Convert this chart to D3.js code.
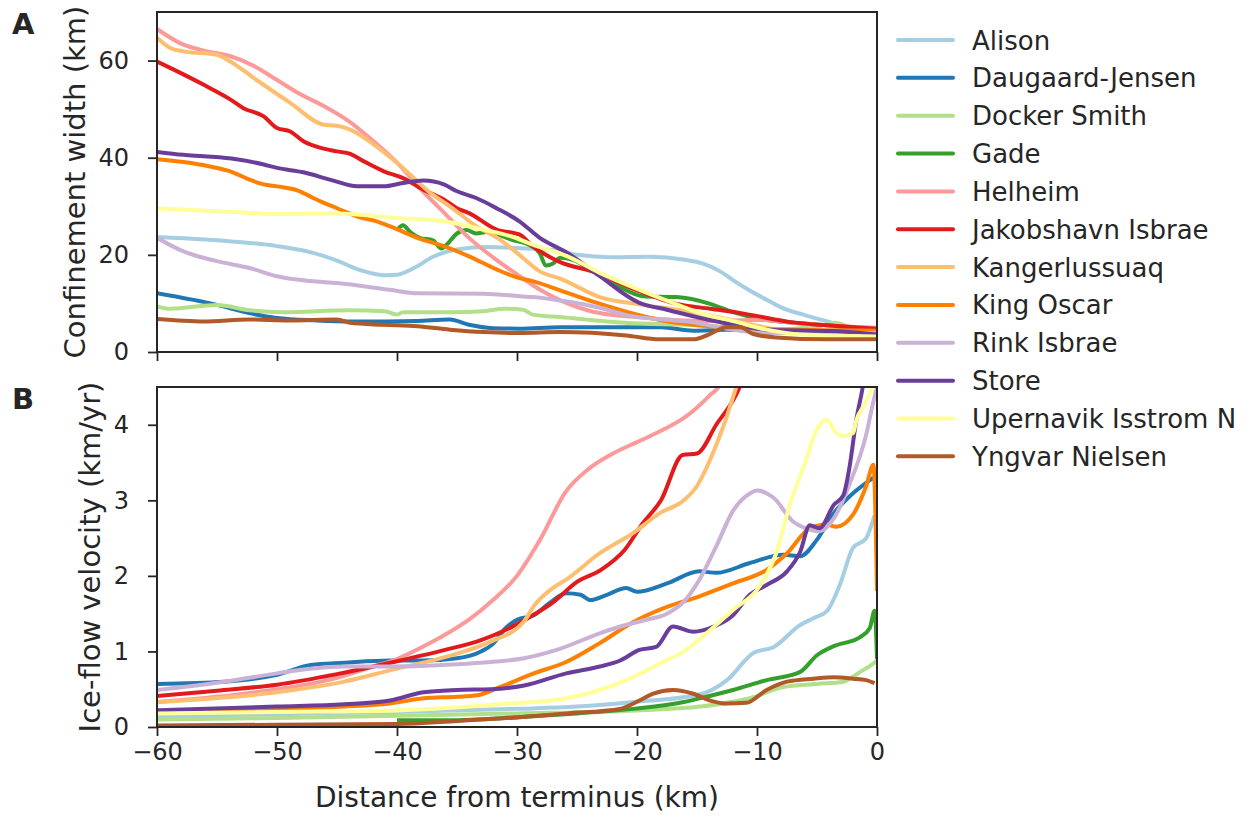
<!DOCTYPE html>
<html>
<head>
<meta charset="utf-8">
<script src="https://cdn.jsdelivr.net/npm/d3@7"></script>
<style>
  html, body { margin: 0; padding: 0; background: #fff; }
  svg { display: block; font-family: "DejaVu Sans", sans-serif; }
</style>
</head>
<body>
<svg id="chart" width="1244" height="816"></svg>
<script>
// Glaciers and their colours (Paired palette)
const glaciers = ["Alison", "Daugaard-Jensen", "Docker Smith", "Gade", "Helheim",
  "Jakobshavn Isbrae", "Kangerlussuaq", "King Oscar", "Rink Isbrae", "Store",
  "Upernavik Isstrom N", "Yngvar Nielsen"];
const colors = ["#a6cee3", "#1f78b4", "#b2df8a", "#33a02c", "#fb9a99", "#e31a1c",
  "#fdbf6f", "#ff7f00", "#cab2d6", "#6a3d9a", "#ffff99", "#b15928"];

const xTicks = [-60, -50, -40, -30, -20, -10, 0];
const widthTicks = [0, 20, 40, 60];
const velocityTicks = [0, 1, 2, 3, 4];

// Confinement width (km) vs distance from terminus (km)
const widthAlison = [[-60,23.7],[-55,23],[-50,21.8],[-47,20.4],[-45,18.8],[-43,16.8],[-41,15.8],[-40,15.9],[-38.5,17.4],[-37,19.6],[-35,21.1],[-32.5,21.6],[-30,21.4],[-27,21],[-25,20],[-22,19.5],[-19,19.6],[-16,19],[-14.5,18.2],[-13,16.5],[-12,14.8],[-10.5,12.5],[-9,10.5],[-8,9.2],[-6,7.6],[-4,6.2],[-2,4.8],[0,4]];
const widthDaugaard = [[-60,12.1],[-55,9.7],[-52.3,8],[-50,7],[-46.7,6.5],[-43.9,6.3],[-41,6.3],[-38.3,6.4],[-35.6,6.7],[-34,5.6],[-32,4.9],[-29.8,4.8],[-26.4,5.1],[-18,5.1],[-15.3,4.4],[-12.5,4.6],[-10,4.5],[-5,4],[0,3.5]];
const widthDocker = [[-60,9.4],[-58.9,8.9],[-55,9.7],[-52.3,8.6],[-49.5,8.2],[-44,8.6],[-41,8.4],[-40,7.7],[-39.5,8.2],[-35.6,8.2],[-32.8,8.4],[-31.1,8.9],[-29.5,8.7],[-28.7,7.7],[-26.4,7.2],[-21,6],[-15,5.5],[-9.2,4.6],[-5,5.2],[-3.5,6],[-2.2,5],[0,3.9]];
const widthGade = [[-39.9,25.4],[-39.5,26.1],[-38.9,24.7],[-38.1,23.5],[-37,23],[-36.3,21.3],[-35.9,22],[-35,24.4],[-34.2,25.1],[-33.4,24.4],[-32.5,24.7],[-31.4,24],[-30.3,23],[-29.2,22.3],[-28.1,20.3],[-27.6,17.8],[-27,18.2],[-26.4,19.4],[-25.3,18.9],[-23.6,16.5],[-21.5,13.5],[-19.5,11.5],[-16.7,11.3],[-13.9,9.9],[-12,8.2],[-9.75,6.8],[-4.2,5.5],[0,4.4]];
const widthHelheim = [[-60,66.5],[-58,63.5],[-56,62],[-54,61],[-52,59],[-50,56],[-48,53],[-46,50.5],[-44,47.5],[-42,43.5],[-40,39],[-38,33.5],[-36,28.5],[-34,23.5],[-32,19.5],[-30,16],[-28,12.7],[-26,10.2],[-24,8.5],[-22,7.6],[-20,7.2],[-17,6.6],[-14,6.4],[-10,6.6],[-6,5.8],[-3,5.3],[0,5]];
const widthJakobshavn = [[-60,59.8],[-58.9,58.5],[-56.1,55],[-53.9,52],[-52.8,50.2],[-51.1,48.5],[-50,46.1],[-48.9,45.4],[-47.8,43.4],[-46.7,42.3],[-45,41.3],[-43.9,40.8],[-42.8,39.3],[-41.1,37.2],[-39.5,35.8],[-37.8,33.4],[-36.1,31.4],[-35,29.6],[-34,28.6],[-31.7,25.2],[-29.8,24.2],[-28.7,21.8],[-26.4,18.5],[-23.6,16.5],[-20,12.7],[-16.7,9.9],[-13.9,8.9],[-11.1,7.9],[-7,6.1],[-4.2,5.5],[0,4.8]];
const widthKanger = [[-60,64.7],[-58.9,62.6],[-57.8,61.9],[-55,61.2],[-53.9,59.8],[-51.7,56],[-48.9,51.3],[-46.1,46.8],[-45,46.6],[-43.9,45.8],[-41.7,42.3],[-39.5,37.9],[-37.2,32.7],[-35.6,30],[-33.4,25.9],[-31.4,23.1],[-30,20.4],[-28.1,16.6],[-26.4,15.1],[-23.1,11.3],[-19.5,9.7],[-15.3,8.2],[-12,6.5],[-9,4.9],[-5,3.8],[0,3.2]];
const widthKingOscar = [[-60,39.7],[-57.8,39.1],[-55.6,38.2],[-53.9,37.2],[-52.3,35.5],[-51.1,34.5],[-50,34.1],[-48.3,33.3],[-47.2,32],[-46.1,30.7],[-45,29.6],[-43.3,27.9],[-41.7,26.9],[-40.6,25.9],[-38.3,23.5],[-36.1,21.8],[-34,19.7],[-31.7,17],[-29.8,15.2],[-28.7,14.6],[-26.4,12.7],[-23.6,10.3],[-20.9,8.3],[-18.1,6.6],[-15.3,5.6],[-9.75,4.75],[0,4.4]];
const widthRink = [[-60,23.5],[-57.8,20.7],[-55,18.7],[-52.3,17.3],[-50,15.6],[-47.2,14.6],[-45,14.2],[-40.6,12.8],[-38.3,12.1],[-32.8,12],[-29.8,11.5],[-28.7,11.3],[-26.4,10.6],[-23.1,9.1],[-20.9,7.6],[-15.3,6.1],[-12.5,4.8],[-9.2,3.9],[-4,3.9],[0,3.9]];
const widthStore = [[-60,41.2],[-57.8,40.6],[-56.1,40.3],[-53.4,39.7],[-51.1,38.6],[-50,37.9],[-47.8,37],[-45.6,35.5],[-43.3,34.1],[-41.1,34.1],[-39.5,34.8],[-37.8,35.3],[-36.1,34.5],[-35,33.1],[-33.4,31.7],[-31.7,29.6],[-29.8,26.9],[-28.1,23.5],[-25.8,20.4],[-23.1,15.6],[-19.8,10.1],[-17.5,8.7],[-14.7,7],[-11.9,5.6],[-9.2,4.6],[-3.6,4.3],[0,3.6]];
const widthUpernavik = [[-60,29.6],[-55,29],[-50,28.4],[-45,28.5],[-40,27.6],[-36.1,26.9],[-32.8,25.2],[-30.5,23.8],[-28.7,22.1],[-25.8,19.7],[-23.1,16.3],[-19.8,12.8],[-17,10.1],[-14.7,8],[-11.9,6.3],[-9.2,4.6],[-6.4,3.6],[0,3.2]];
const widthYngvar = [[-60,6.8],[-56.1,6.3],[-52.3,6.7],[-48.9,6.5],[-45,6.7],[-43.9,6],[-41.1,5.6],[-38.3,5.3],[-35.6,4.6],[-32.8,4.1],[-29.8,3.9],[-26.4,4.1],[-20.9,3.4],[-18.1,2.6],[-15.3,2.6],[-14.2,3.4],[-12.5,5.1],[-11.4,5.1],[-10.3,3.7],[-8.4,3],[-4.2,2.6],[0,2.6]];

// Ice-flow velocity (km/yr) vs distance from terminus (km)
const velAlison = [[-60,0.14],[-50,0.17],[-40,0.2],[-30,0.24],[-25,0.27],[-20.3,0.33],[-14.8,0.43],[-12.5,0.62],[-10.3,0.98],[-8.6,1.06],[-6.4,1.35],[-5.3,1.44],[-4.2,1.53],[-3.1,1.88],[-2,2.37],[-0.9,2.5],[-0.2,2.8]];
const velDaugaard = [[-60,0.57],[-54.4,0.6],[-50,0.69],[-47.2,0.82],[-44.4,0.85],[-40.6,0.88],[-37.8,0.88],[-35,0.91],[-33,1.0],[-32,1.1],[-31,1.3],[-30,1.42],[-28.6,1.48],[-27.3,1.64],[-25.9,1.77],[-24.7,1.75],[-23.9,1.68],[-22.5,1.75],[-20.9,1.84],[-20,1.79],[-17.5,1.9],[-14.8,2.06],[-13.4,2.04],[-10.6,2.17],[-7.8,2.28],[-6.4,2.26],[-5,2.48],[-3.6,2.83],[-2.3,3.05],[-0.3,3.3]];
const velDocker = [[-60,0.1],[-50,0.12],[-40,0.15],[-30,0.18],[-20,0.22],[-14.75,0.27],[-10.6,0.38],[-7.8,0.53],[-5,0.57],[-2.8,0.6],[-1.4,0.73],[-0.3,0.84],[0,0.88]];
const velGade = [[-40,0.09],[-35.6,0.09],[-30,0.13],[-25,0.18],[-20.3,0.24],[-16.1,0.33],[-14.75,0.38],[-12,0.49],[-9.2,0.62],[-6.4,0.73],[-5,0.95],[-3.6,1.07],[-1.4,1.19],[-0.6,1.31],[-0.2,1.54],[0,0.9]];
const velHelheim = [[-60,0.33],[-55,0.4],[-50,0.5],[-45,0.65],[-42,0.8],[-40,0.9],[-38,1.05],[-36,1.22],[-34,1.42],[-32,1.68],[-30,2.0],[-28,2.5],[-26,3.1],[-24,3.42],[-22,3.62],[-20,3.77],[-18,3.92],[-16,4.1],[-14,4.38],[-13,4.55],[-12.5,4.75]];
const velJakobshavn = [[-60,0.41],[-55,0.48],[-50,0.56],[-45,0.7],[-40,0.87],[-36,1.02],[-33,1.15],[-31,1.28],[-29,1.45],[-27,1.65],[-25,1.92],[-23,2.08],[-21,2.35],[-19.5,2.7],[-18,3.0],[-16.2,3.6],[-15,3.62],[-13.4,4.0],[-11.4,4.52],[-11,4.7]];
const velKanger = [[-60,0.33],[-50,0.46],[-44.4,0.6],[-40.6,0.75],[-35,0.97],[-32.2,1.13],[-29.4,1.4],[-28.6,1.6],[-27,1.84],[-25.9,1.95],[-23.1,2.3],[-20.3,2.57],[-18.1,2.83],[-16.1,3.0],[-15,3.19],[-13.9,3.54],[-12.8,3.98],[-11.7,4.51],[-11.3,4.7]];
const velKingOscar = [[-60,0.2],[-55,0.22],[-50,0.24],[-44.4,0.27],[-40.6,0.31],[-37.8,0.38],[-35,0.4],[-33.3,0.42],[-31.4,0.53],[-28.6,0.71],[-25.9,0.86],[-23.1,1.11],[-20.3,1.39],[-17.5,1.59],[-14.8,1.73],[-12,1.9],[-9.2,2.08],[-7.5,2.3],[-5.6,2.63],[-4.2,2.68],[-3.4,2.65],[-2,2.81],[-0.9,3.19],[-0.3,3.47],[0,1.8]];
const velRink = [[-60,0.49],[-54.4,0.6],[-50,0.71],[-47.2,0.77],[-44.4,0.8],[-40.6,0.8],[-35,0.83],[-32.2,0.86],[-29.4,0.91],[-26.7,1.02],[-23.1,1.24],[-21.4,1.33],[-19.2,1.42],[-17.5,1.5],[-16.1,1.66],[-14.8,1.95],[-13.4,2.39],[-12,2.86],[-10.6,3.09],[-10,3.13],[-8.6,3.03],[-7,2.72],[-5.9,2.63],[-4.8,2.59],[-3.6,2.76],[-2.3,3.21],[-0.9,3.87],[-0.3,4.31],[0,4.5]];
const velStore = [[-60,0.22],[-50,0.27],[-44.4,0.3],[-40.6,0.35],[-37.8,0.46],[-35,0.49],[-32.2,0.5],[-29.4,0.55],[-25.9,0.71],[-23.1,0.8],[-21.4,0.88],[-19.8,1.02],[-18.4,1.06],[-17,1.33],[-15.3,1.26],[-13.6,1.33],[-12,1.48],[-10.6,1.75],[-9.2,1.88],[-7.5,2.06],[-6.4,2.32],[-5.6,2.67],[-4.8,2.63],[-3.6,2.94],[-2.8,3.07],[-2.3,3.43],[-1.7,4.09],[-1.2,4.49],[-1,4.7]];
const velUpernavik = [[-60,0.18],[-50,0.2],[-40,0.22],[-31.4,0.3],[-25.9,0.38],[-23.1,0.49],[-20.3,0.66],[-18.1,0.84],[-16.1,1.0],[-14.2,1.24],[-12,1.55],[-9.8,1.86],[-8.4,2.3],[-7.3,2.92],[-6.1,3.45],[-5,3.94],[-4.2,4.07],[-3.4,3.89],[-2.8,3.85],[-2,3.89],[-1.7,4.07],[-1.1,4.25],[-0.6,4.42],[-0.3,4.53],[0,4.7]];
const velYngvar = [[-60,0.02],[-50,0.03],[-40,0.04],[-35,0.08],[-29.8,0.13],[-25.9,0.18],[-21.4,0.24],[-19.8,0.35],[-18.7,0.44],[-17,0.49],[-15.3,0.44],[-13.9,0.35],[-12.5,0.31],[-10.9,0.32],[-9.2,0.49],[-7.5,0.6],[-5.3,0.64],[-3.6,0.66],[-2,0.64],[-0.9,0.62],[-0.2,0.58]];

const widthSeries = [widthAlison, widthDaugaard, widthDocker, widthGade, widthHelheim, widthJakobshavn,
  widthKanger, widthKingOscar, widthRink, widthStore, widthUpernavik, widthYngvar];
const velocitySeries = [velAlison, velDaugaard, velDocker, velGade, velHelheim, velJakobshavn,
  velKanger, velKingOscar, velRink, velStore, velUpernavik, velYngvar];

const svg = d3.select("#chart");
const ink = "#262626";
const left = 157, right = 877;

const x = d3.scaleLinear().domain([-60, 0]).range([left, right]);

const panels = [
  { key: "A", top: 12, bottom: 352, domain: [0, 70], ticks: widthTicks, series: widthSeries,
    label: "Confinement width (km)", labelX: 85, showX: false },
  { key: "B", top: 387, bottom: 727, domain: [0, 4.5], ticks: velocityTicks, series: velocitySeries,
    label: "Ice-flow velocity (km/yr)", labelX: 100, showX: true }
];

panels.forEach(p => {
  const y = d3.scaleLinear().domain(p.domain).range([p.bottom, p.top]);
  const g = svg.append("g");

  const clipId = "clip" + p.key;
  svg.append("defs").append("clipPath").attr("id", clipId)
    .append("rect").attr("x", left).attr("y", p.top)
    .attr("width", right - left).attr("height", p.bottom - p.top);

  const line = d3.line()
    .x(d => x(d[0])).y(d => y(d[1]))
    .curve(d3.curveMonotoneX);

  const lines = g.append("g").attr("clip-path", `url(#${clipId})`);
  p.series.forEach((s, i) => {
    lines.append("path")
      .datum(s)
      .attr("d", line)
      .attr("fill", "none")
      .attr("stroke", colors[i])
      .attr("stroke-width", 4)
      .attr("stroke-linejoin", "round")
      .attr("stroke-linecap", "butt");
  });

  // y axis
  const yAxis = d3.axisLeft(y).tickValues(p.ticks).tickSize(9).tickPadding(19)
    .tickFormat(d3.format("d"));
  const ya = g.append("g").attr("transform", `translate(${left},0)`).call(yAxis);
  ya.select(".domain").remove();
  ya.selectAll(".tick line").attr("stroke", ink).attr("stroke-width", 1.8);
  ya.selectAll(".tick text").attr("fill", ink).style("font-size", "24px")
    .style("font-family", "DejaVu Sans, sans-serif");

  // x axis
  const xAxis = d3.axisBottom(x).tickValues(xTicks).tickSize(9).tickPadding(7)
    .tickFormat(p.showX ? (d => d < 0 ? "\u2212" + Math.abs(d) : String(d)) : () => "");
  const xa = g.append("g").attr("transform", `translate(0,${p.bottom})`).call(xAxis);
  xa.select(".domain").remove();
  xa.selectAll(".tick line").attr("stroke", ink).attr("stroke-width", 1.8);
  xa.selectAll(".tick text").attr("fill", ink).style("font-size", "24px")
    .style("font-family", "DejaVu Sans, sans-serif");

  // frame
  g.append("rect").attr("x", left).attr("y", p.top)
    .attr("width", right - left).attr("height", p.bottom - p.top)
    .attr("fill", "none").attr("stroke", ink).attr("stroke-width", 2);

  // y label
  g.append("text")
    .attr("transform", `translate(${p.labelX},${(p.top + p.bottom) / 2}) rotate(-90)`)
    .attr("text-anchor", "middle")
    .attr("fill", ink)
    .style("font-size", "29px")
    .text(p.label);

  // panel letter
  g.append("text")
    .attr("x", 12).attr("y", p.top + 22)
    .attr("fill", ink)
    .style("font-size", "29px").style("font-weight", "bold")
    .text(p.key);
});

// x label
svg.append("text")
  .attr("x", (left + right) / 2).attr("y", 807)
  .attr("text-anchor", "middle")
  .attr("fill", ink)
  .style("font-size", "28px")
  .text("Distance from terminus (km)");

// legend
const legend = svg.append("g");
glaciers.forEach((name, i) => {
  const yy = 40 + i * 37.85;
  legend.append("line")
    .attr("x1", 898).attr("x2", 953).attr("y1", yy).attr("y2", yy)
    .attr("stroke", colors[i]).attr("stroke-width", 4)
    .attr("stroke-linecap", "round");
  legend.append("text")
    .attr("x", 972).attr("y", yy + 9.5)
    .attr("fill", ink)
    .style("font-size", "26px")
    .text(name);
});
</script>
</body>
</html>
